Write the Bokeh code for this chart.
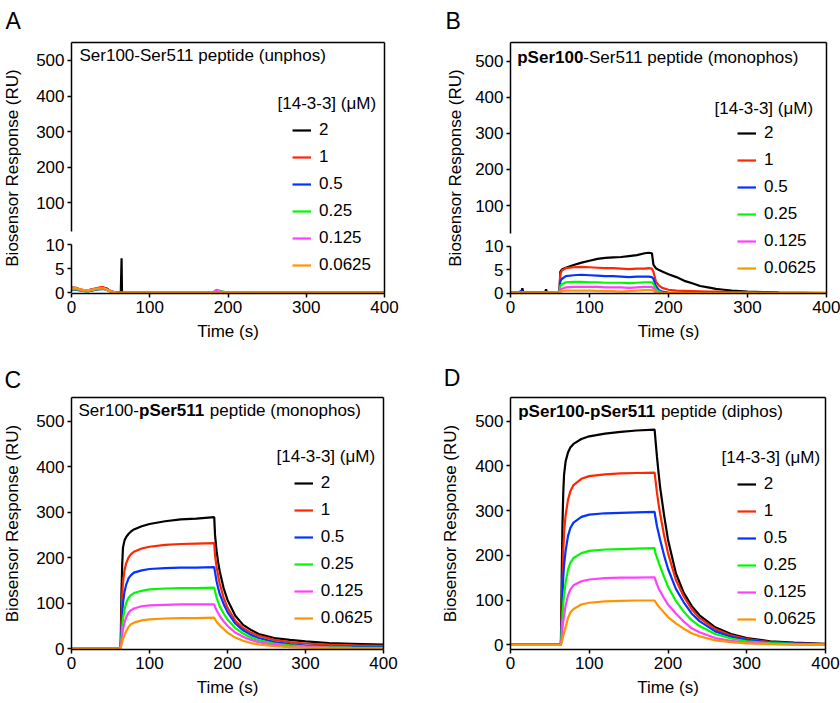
from bokeh.plotting import figure
from bokeh.models import Range1d, LinearAxis, FixedTicker, Label, Legend, LegendItem, Title
from bokeh.layouts import row, column
from bokeh.embed import file_html
from bokeh.resources import INLINE

FONT = "Liberation Sans"

# ---------------- data ----------------
conc_labels = ["2", "1", "0.5", "0.25", "0.125", "0.0625"]
colors = ["#000000", "#ff2600", "#0433ff", "#00f900", "#ff40ff", "#ff9300"]

x_ticks = [0, 100, 200, 300, 400]
y_ticks = [0, 100, 200, 300, 400, 500]
y_ticks_upper = [100, 200, 300, 400, 500]
y_ticks_lower = [0, 5, 10]

# Panel A (unphos) - values in RU (lower axis segment)
tA = [0, 5, 10, 15, 20, 25, 30, 35, 40, 45, 50, 55, 60, 63, 64, 64.5, 65, 70, 100, 150,
      180, 185, 190, 195, 200, 250, 300, 350, 400]
A_2 = [1.1, 1.0, 0.8, 0.5, 0.4, 0.7, 0.8, 1.0, 1.1, 0.9, 0.3, 0.1, 0.1, 0.1, 7.2, 0.2, 0.0, 0.0, 0.0, 0.0,
       0.0, 0.0, 0.0, 0.0, 0.0, 0.0, 0.0, 0.0, 0.0]
A_1 = [1.0, 1.1, 0.7, 0.5, 0.4, 0.6, 0.9, 1.1, 1.2, 0.8, 0.4, 0.1, 0.1, 0.1, 0.1, 0.0, 0.0, 0.0, 0.0, 0.0,
       0.0, 0.0, 0.0, 0.0, 0.0, 0.0, 0.0, 0.0, 0.0]
A_05 = [0.6, 0.7, 0.5, 0.4, 0.3, 0.4, 0.6, 0.7, 0.8, 0.6, 0.3, 0.1, 0.0, 0.0, 0.0, 0.0, 0.0, 0.0, 0.0, 0.0,
        0.0, 0.3, 0.3, 0.1, 0.0, 0.0, 0.0, 0.0, 0.0]
A_025 = [0.7, 0.8, 0.6, 0.4, 0.3, 0.5, 0.7, 0.8, 0.9, 0.6, 0.2, 0.1, 0.0, 0.0, 0.0, 0.0, 0.0, 0.0, 0.0, 0.0,
         0.0, 0.6, 0.4, 0.2, 0.0, 0.0, 0.0, 0.0, 0.0]
A_0125 = [1.0, 0.9, 0.7, 0.5, 0.4, 0.6, 0.8, 0.9, 1.0, 0.7, 0.3, 0.1, 0.0, 0.0, 0.0, 0.0, 0.0, 0.0, 0.0, 0.0,
          0.0, 0.5, 0.3, 0.1, 0.0, 0.0, 0.0, 0.0, 0.0]
A_00625 = [0.9, 1.0, 0.8, 0.6, 0.5, 0.6, 0.8, 0.9, 1.0, 0.7, 0.3, 0.1, 0.0, 0.0, 0.0, 0.0, 0.0, 0.0, 0.0, 0.0,
           0.0, 0.0, 0.0, 0.0, 0.0, 0.0, 0.0, 0.0, 0.0]

# Panel B (pSer100 monophos)
tB = [0, 10, 14, 15, 16, 25, 35, 44, 45, 46, 55, 62, 63, 65, 70, 80, 90, 100, 110, 120,
      130, 140, 150, 160, 170, 175, 179, 181, 184, 188, 192, 200, 210, 220, 230, 240, 250, 260, 270, 280,
      300, 320, 340, 370, 400]
B_2 = [0.2, 0.1, 0.3, 1.0, 0.2, 0.2, 0.1, 0.2, 0.8, 0.2, 0.1, 0.2, 4.5, 5.0, 5.4, 6.0, 6.5, 6.9, 7.3, 7.5,
       7.6, 7.7, 7.9, 8.1, 8.5, 8.6, 8.5, 6.0, 5.3, 4.9, 4.6, 4.0, 3.4, 2.6, 2.1, 1.5, 1.2, 0.9, 0.7, 0.5,
       0.3, 0.2, 0.1, 0.05, 0.0]
B_1 = [0.1, 0.2, 0.1, 0.2, 0.1, 0.2, 0.1, 0.1, 0.2, 0.1, 0.1, 0.1, 4.0, 4.8, 5.3, 5.5, 5.6, 5.5, 5.4, 5.3,
       5.3, 5.2, 5.1, 5.2, 5.2, 5.3, 5.2, 4.5, 2.5, 1.6, 1.1, 0.7, 0.5, 0.45, 0.4, 0.35, 0.3, 0.3, 0.25, 0.2,
       0.2, 0.15, 0.1, 0.05, 0.05]
B_05 = [0.1, 0.1, 0.5, 0.3, 0.1, 0.1, 0.1, 0.1, 0.1, 0.1, 0.1, 0.1, 2.5, 3.0, 3.6, 3.8, 3.9, 3.8, 3.7, 3.6,
        3.6, 3.5, 3.4, 3.5, 3.5, 3.5, 3.4, 3.0, 1.5, 0.6, 0.3, 0.1, 0.0, 0.0, 0.0, 0.0, 0.0, 0.0, 0.0, 0.0,
        0.0, 0.0, 0.0, 0.0, 0.0]
B_025 = [0.1, 0.1, 0.1, 0.1, 0.1, 0.1, 0.1, 0.1, 0.1, 0.1, 0.2, 0.2, 1.5, 1.9, 2.3, 2.4, 2.4, 2.3, 2.3, 2.2,
         2.2, 2.2, 2.1, 2.2, 2.3, 2.3, 2.3, 1.9, 0.8, 0.3, 0.1, 0.05, 0.0, 0.0, 0.0, 0.0, 0.0, 0.0, 0.0, 0.0,
         0.0, 0.0, 0.0, 0.0, 0.0]
B_0125 = [0.1, 0.1, 0.1, 0.1, 0.1, 0.1, 0.1, 0.1, 0.1, 0.1, 0.1, 0.1, 0.7, 0.9, 1.2, 1.3, 1.3, 1.3, 1.3, 1.2,
          1.2, 1.2, 1.1, 1.2, 1.3, 1.3, 1.3, 1.0, 0.4, 0.1, 0.0, 0.0, 0.0, 0.0, 0.0, 0.0, 0.0, 0.0, 0.0, 0.0,
          0.0, 0.0, 0.0, 0.0, 0.0]
B_00625 = [0.05, 0.05, 0.05, 0.05, 0.05, 0.05, 0.05, 0.05, 0.05, 0.05, 0.05, 0.05, 0.3, 0.4, 0.5, 0.5, 0.5, 0.5,
           0.45, 0.4, 0.4, 0.3, 0.4, 0.5, 0.6, 0.6, 0.6, 0.5, 0.2, 0.05, 0.0, 0.0, 0.0, 0.0, 0.0, 0.0, 0.0,
           0.0, 0.0, 0.0, 0.0, 0.0, 0.0, 0.0, 0.0]

# Panel C (pSer511 monophos)
tC = [0, 20, 40, 63, 64, 65, 66, 68, 70, 73, 76, 80, 90, 100, 120, 140, 160, 183,
      184, 186, 188, 190, 195, 200, 210, 220, 230, 240, 260, 280, 300, 330, 360, 400]
C_2 = [0.5, 0.5, 0.5, 0.5, 120, 185, 222, 238, 245, 252, 257, 262, 269, 274, 280, 284, 286, 289,
       250, 215, 190, 170, 133, 107, 72, 52, 41, 32, 23, 19, 15.5, 12, 10.5, 8.5]
C_1 = [0.5, 0.5, 0.5, 0.5, 60, 115, 145, 173, 187, 200, 207, 213, 220, 224, 228, 230, 231, 232,
       205, 180, 160, 143, 112, 90, 61, 45, 35, 28, 19, 14, 11, 8.5, 7, 6]
C_05 = [0, 0, 0, 0, 40, 75, 100, 125, 140, 154, 161, 167, 172, 175, 177, 178, 178, 179,
        168, 148, 133, 120, 98, 80, 55, 40, 30, 23, 14, 9.5, 6.5, 4.5, 3.5, 3]
C_025 = [0, 0, 0, 0, 25, 48, 65, 86, 100, 111, 117, 122, 127, 130, 132, 133, 133, 134,
         126, 112, 102, 93, 77, 64, 45, 33, 24, 18, 11, 7, 4.5, 3, 2, 1.5]
C_0125 = [0, 0, 0, 0, 16, 30, 42, 58, 68, 78, 84, 88, 93, 95, 96, 97, 97, 97,
          92, 84, 78, 72, 60, 50, 35, 26, 19, 14, 8, 5, 3, 2, 1.5, 1]
C_00625 = [0, 0, 0, 0, 8, 15, 21, 30, 38, 47, 53, 57, 62, 64, 66, 67, 67, 68,
           64, 59, 55, 51, 43, 35, 24, 17, 12, 9, 5, 3, 2, 1, 0.5, 0.5]

# Panel D (diphos)
tD = [0, 20, 40, 64, 65, 66, 67, 68, 70, 73, 76, 80, 90, 100, 120, 140, 160, 183,
      184, 186, 188, 190, 195, 200, 210, 220, 230, 240, 260, 280, 300, 330, 360, 400]
D_2 = [0.5, 0.5, 0.5, 0.5, 150, 270, 340, 380, 410, 430, 441, 449, 460, 466, 472, 476, 479, 481,
       460, 420, 385, 352, 290, 235, 160, 116, 87, 66, 39, 24, 15, 8, 5, 2]
D_1 = [0.5, 0.5, 0.5, 0.5, 70, 150, 210, 250, 290, 324, 343, 357, 371, 377, 381, 383, 384, 385,
       370, 340, 315, 293, 245, 205, 145, 108, 80, 60, 35, 21, 13, 6, 3, 1]
D_05 = [0, 0, 0, 0, 50, 110, 150, 178, 210, 243, 261, 273, 286, 291, 294, 295, 296, 297,
        285, 265, 250, 235, 200, 170, 125, 95, 70, 53, 30, 18, 11, 5, 3, 1]
D_025 = [0, 0, 0, 0, 30, 65, 92, 112, 140, 168, 183, 194, 205, 210, 213, 214, 215, 216,
         205, 195, 185, 175, 152, 130, 98, 74, 55, 42, 24, 14, 8, 4, 2, 1]
D_0125 = [0, 0, 0, 0, 15, 35, 52, 65, 88, 110, 124, 133, 142, 146, 149, 150, 150, 151,
          145, 135, 126, 120, 104, 90, 70, 52, 37, 28, 15, 9, 5, 2, 1, 0]
D_00625 = [0, 0, 0, 0, 4, 12, 20, 27, 40, 60, 72, 80, 90, 94, 97, 98, 99, 99,
           96, 91, 86, 82, 72, 62, 48, 36, 26, 19, 10, 6, 3, 1.5, 0.5, 0]

# ---------------- styling helpers ----------------
YLAB = "Biosensor Response (RU)"
LTITLE = "[14-3-3] (\u03bcM)"

axis_style = dict(
    axis_line_width=1.5, axis_line_color="black",
    major_tick_line_width=1.5, major_tick_line_color="black",
    major_tick_out=4, major_tick_in=0, minor_tick_out=0, minor_tick_in=0,
    major_label_text_font=FONT, major_label_text_font_size="17px",
    major_label_text_color="black", major_label_standoff=3,
    axis_label_text_font=FONT, axis_label_text_font_size="17px",
    axis_label_text_font_style="normal", axis_label_text_color="black",
)


def line_axis(**kw):
    return LinearAxis(ticker=FixedTicker(ticks=[]), major_tick_out=0, major_tick_in=0,
                      minor_tick_out=0, minor_tick_in=0, major_label_standoff=0,
                      axis_line_width=1.5, axis_line_color="black", **kw)


def base_fig(width, height, left, top, right, bottom, yr):
    p = figure(width=width, height=height, x_range=Range1d(0, 400), y_range=Range1d(*yr),
               x_axis_type=None, y_axis_type=None, output_backend="svg", toolbar_location=None,
               min_border_left=left, min_border_top=top, min_border_right=right,
               min_border_bottom=bottom)
    p.outline_line_color = None
    p.background_fill_color = "white"
    p.border_fill_color = "white"
    xa = LinearAxis(ticker=FixedTicker(ticks=x_ticks), axis_label="Time (s)", **axis_style)
    xa.axis_label_standoff = 6
    p.add_layout(xa, "below")
    p.add_layout(line_axis(), "above")
    p.add_layout(line_axis(), "right")
    return p


def letter(p, text, offset, standoff):
    p.add_layout(Title(text=text, align="left", offset=offset, vertical_align="top",
                       standoff=standoff, text_font=FONT, text_font_size="23px",
                       text_font_style="normal", text_color="black"), "above")


def txt(p, x, y, text, bold=False):
    p.add_layout(Label(x=x, y=y, x_units="screen", y_units="screen", text=text,
                       text_font=FONT, text_font_size="17px",
                       text_font_style="bold" if bold else "normal",
                       text_align="left", text_baseline="middle", text_color="black"))


def add_lines(p, t, series, range_name=None):
    rs = []
    for ys, c in zip(series, colors):
        kw = {} if range_name is None else {"y_range_name": range_name}
        rs.append(p.line(t, ys, line_color=c, line_width=2.2, **kw))
    return rs


def add_legend(p, rs, loc):
    items = [LegendItem(label=lab, renderers=[r]) for lab, r in zip(conc_labels, rs)]
    lg = Legend(items=items, location=loc, padding=0, margin=0, spacing=7,
                glyph_width=19, glyph_height=20, label_height=20, label_standoff=8,
                label_text_font=FONT, label_text_font_size="17px", label_text_color="black",
                border_line_color=None, background_fill_alpha=0)
    p.add_layout(lg)


def plain_y_axis(p, label_standoff):
    ax = LinearAxis(ticker=FixedTicker(ticks=y_ticks), axis_label=YLAB, **axis_style)
    ax.axis_label_standoff = label_standoff
    p.add_layout(ax, "left")


def broken_y_axis(p, brk, main_rng, low_rng, label_standoff):
    """Prism-style broken axis: upper segment on the main range, 0-10 segment on 'lower'."""
    p.extra_y_ranges = {"lower": Range1d(*low_rng)}
    p.add_layout(line_axis(bounds=(brk, main_rng[1])), "left")
    p.add_layout(line_axis(y_range_name="lower", bounds=(0, 10)), "left")
    # tick positions of the lower segment expressed on the main scale
    k = (main_rng[1] - main_rng[0]) / (low_rng[1] - low_rng[0])
    low_pos = [round(main_rng[0] + (v - low_rng[0]) * k, 4) for v in y_ticks_lower]
    overrides = {pos: str(v) for pos, v in zip(low_pos, y_ticks_lower)}
    for v in y_ticks_upper:
        overrides[v] = str(v)
    st = dict(axis_style)
    st["axis_line_color"] = None
    ax = LinearAxis(ticker=FixedTicker(ticks=low_pos + y_ticks_upper),
                    major_label_overrides=overrides, axis_label=YLAB, **st)
    ax.axis_label_standoff = label_standoff
    p.add_layout(ax, "left")


# ---------------- Panel A ----------------
A_main = (-154.6, 550.3)
pA = base_fig(420, 345, 69, 41, 36, 52, A_main)
broken_y_axis(pA, 18.8, A_main, (-0.15, 52.35), 11)
rA = add_lines(pA, tA, [A_2, A_1, A_05, A_025, A_0125, A_00625], "lower")
add_legend(pA, rA, (221, 18.5))
txt(pA, 8, 238, "Ser100-Ser511 peptide (unphos)")
txt(pA, 206, 190, LTITLE)
letter(pA, "A", -66, 13)

# ---------------- Panel B ----------------
B_main = (-144.2, 552.5)
pB = base_fig(420, 345, 90, 42, 14, 51, B_main)
broken_y_axis(pB, 21.7, B_main, (-0.1, 53.5), 7)
rB = add_lines(pB, tB, [B_2, B_1, B_05, B_025, B_0125, B_00625], "lower")
add_legend(pB, rB, (227, 15))
txt(pB, 6.7, 236.3, "pSer100", bold=True)
txt(pB, 72.8, 236.3, "-Ser511 peptide (monophos)")
txt(pB, 204, 185.3, LTITLE)
letter(pB, "B", -65, 14)

# ---------------- Panel C ----------------
pC = base_fig(420, 358, 68, 50, 37, 54, (-2.2, 552.4))
plain_y_axis(pC, 11)
rC = add_lines(pC, tC, [C_2, C_1, C_05, C_025, C_0125, C_00625])
add_legend(pC, rC, (222.7, 21.3))
txt(pC, 7, 239, "Ser100-")
txt(pC, 67.5, 239, "pSer511", bold=True)
txt(pC, 138.3, 239, "peptide (monophos)")
txt(pC, 205, 193, LTITLE)
letter(pC, "C", -67, 6)

# ---------------- Panel D ----------------
pD = base_fig(420, 358, 90, 52, 15, 53, (-10.5, 552.8))
plain_y_axis(pD, 12)
rD = add_lines(pD, tD, [D_2, D_1, D_05, D_025, D_0125, D_00625])
add_legend(pD, rD, (226.7, 19.6))
txt(pD, 7.7, 238.3, "pSer100-pSer511", bold=True)
txt(pD, 150.4, 238.3, "peptide (diphos)")
txt(pD, 211, 192.3, LTITLE)
letter(pD, "D", -66.7, 10)

layout = column(row(pA, pB), row(pC, pD))
open("out.html", "w").write(file_html(layout, INLINE))
